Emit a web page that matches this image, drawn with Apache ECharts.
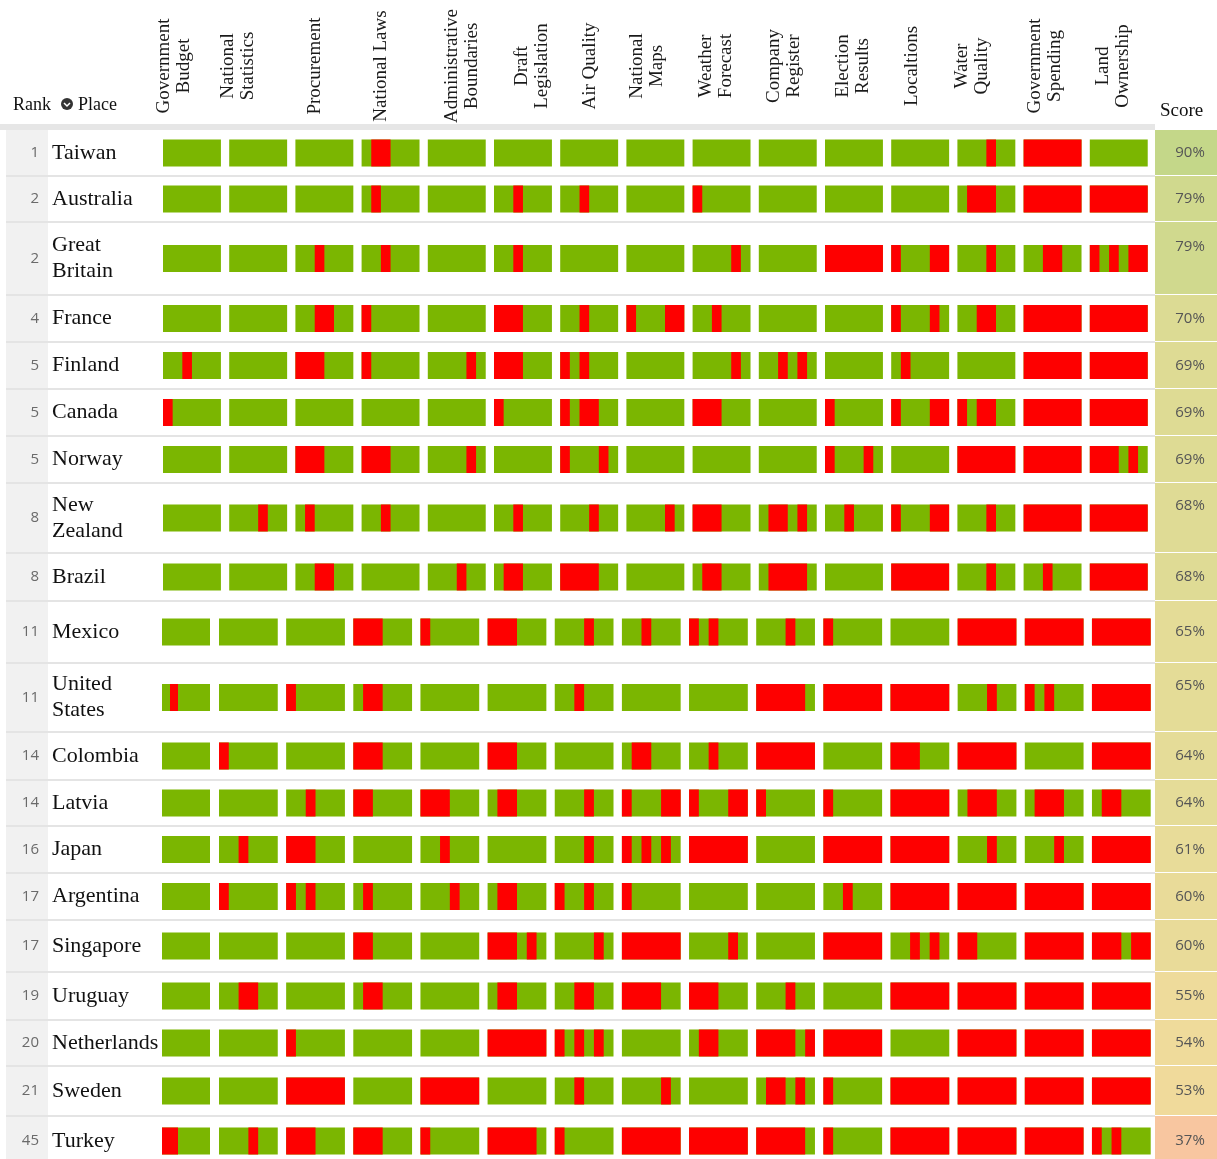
<!DOCTYPE html>
<html><head><meta charset="utf-8">
<script src="https://cdn.jsdelivr.net/npm/echarts@6/dist/echarts.min.js"></script>
<style>html,body{margin:0;padding:0;background:#fff}#c{width:1217px;height:1159px}</style>
</head><body><div id="c"></div><script>
// ---------- data ----------
const datasets = ['Government\nBudget','National\nStatistics','Procurement','National Laws','Administrative\nBoundaries','Draft\nLegislation','Air Quality','National\nMaps','Weather\nForecast','Company\nRegister','Election\nResults','Localtions','Water\nQuality','Government\nSpending','Land\nOwnership'];
const places = ['Taiwan','Australia','Great\nBritain','France','Finland','Canada','Norway','New\nZealand','Brazil','Mexico','United\nStates','Colombia','Latvia','Japan','Argentina','Singapore','Uruguay','Netherlands','Sweden','Turkey'];
const ranks = [1,2,2,4,5,5,5,8,8,11,11,14,14,16,17,17,19,20,21,45];
const scores = [90,79,79,70,69,69,69,68,68,65,65,64,64,61,60,60,55,54,53,37];
// each cell: 6 criteria, G = met (green), R = not met (red)
const taiwan       = 'GGGGGG GGGGGG GGGGGG GRRGGG GGGGGG GGGGGG GGGGGG GGGGGG GGGGGG GGGGGG GGGGGG GGGGGG GGGRGG RRRRRR GGGGGG';
const australia    = 'GGGGGG GGGGGG GGGGGG GRGGGG GGGGGG GGRGGG GGRGGG GGGGGG RGGGGG GGGGGG GGGGGG GGGGGG GRRRGG RRRRRR RRRRRR';
const greatBritain = 'GGGGGG GGGGGG GGRGGG GGRGGG GGGGGG GGRGGG GGGGGG GGGGGG GGGGRG GGGGGG RRRRRR RGGGRR GGGRGG GGRRGG RGRGRR';
const france       = 'GGGGGG GGGGGG GGRRGG RGGGGG GGGGGG RRRGGG GGRGGG RGGGRR GGRGGG GGGGGG GGGGGG RGGGRG GGRRGG RRRRRR RRRRRR';
const finland      = 'GGRGGG GGGGGG RRRGGG RGGGGG GGGGRG RRRGGG RGRGGG GGGGGG GGGGRG GGRGRG GGGGGG GRGGGG GGGGGG RRRRRR RRRRRR';
const canada       = 'RGGGGG GGGGGG GGGGGG GGGGGG GGGGGG RGGGGG RGRRGG GGGGGG RRRGGG GGGGGG RGGGGG RGGGRR RGRRGG RRRRRR RRRRRR';
const norway       = 'GGGGGG GGGGGG RRRGGG RRRGGG GGGGRG GGGGGG RGGGRG GGGGGG GGGGGG GGGGGG RGGGRG GGGGGG RRRRRR RRRRRR RRRGRG';
const newZealand   = 'GGGGGG GGGRGG GRGGGG GGRGGG GGGGGG GGRGGG GGGRGG GGGGRG RRRGGG GRRGRG GGRGGG RGGGRR GGGRGG RRRRRR RRRRRR';
const brazil       = 'GGGGGG GGGGGG GGRRGG GGGGGG GGGRGG GRRGGG RRRRGG GGGGGG GRRGGG GRRRRG GGGGGG RRRRRR GGGRGG GGRGGG RRRRRR';
const mexico       = 'GGGGGG GGGGGG GGGGGG RRRGGG RGGGGG RRRGGG GGGRGG GGRGGG RGRGGG GGGRGG RGGGGG GGGGGG RRRRRR RRRRRR RRRRRR';
const unitedStates = 'GRGGGG GGGGGG RGGGGG GRRGGG GGGGGG GGGGGG GGRGGG GGGGGG GGGGGG RRRRRG RRRRRR RRRRRR GGGRGG RGRGGG RRRRRR';
const colombia     = 'GGGGGG RGGGGG GGGGGG RRRGGG GGGGGG RRRGGG GGGGGG GRRGGG GGRGGG RRRRRR GGGGGG RRRGGG RRRRRR GGGGGG RRRRRR';
const latvia       = 'GGGGGG GGGGGG GGRGGG RRGGGG RRRGGG GRRGGG GGGRGG RGGGRR RGGGRR RGGGGG RGGGGG RRRRRR GRRRGG GRRRGG GRRGGG';
const japan        = 'GGGGGG GGRGGG RRRGGG GGGGGG GGRGGG GGGGGG GGGRGG RGRGRG RRRRRR GGGGGG RRRRRR RRRRRR GGGRGG GGGRGG RRRRRR';
const argentina    = 'GGGGGG RGGGGG RGRGGG GRGGGG GGGRGG GRRGGG RGGRGG RGGGGG GGGGGG GGGGGG GGRGGG RRRRRR RRRRRR RRRRRR RRRRRR';
const singapore    = 'GGGGGG GGGGGG GGGGGG RRGGGG GGGGGG RRRGRG GGGGRG RRRRRR GGGGRG GGGGGG RRRRRR GGRGRG RRGGGG RRRRRR RRRGRR';
const uruguay      = 'GGGGGG GGRRGG GGGGGG GRRGGG GGGGGG GRRGGG GGRRGG RRRRGG RRRGGG GGGRGG GGGGGG RRRRRR RRRRRR RRRRRR RRRRRR';
const netherlands  = 'GGGGGG GGGGGG RGGGGG GGGGGG GGGGGG RRRRRR RGRGRG GGGGGG GRRGGG RRRRGR RRRRRR GGGGGG RRRRRR RRRRRR RRRRRR';
const sweden       = 'GGGGGG GGGGGG RRRRRR GGGGGG RRRRRR GGGGGG GGRGGG GGGGRG GGGGGG GRRGRG RGGGGG RRRRRR RRRRRR RRRRRR RRRRRR';
const turkey       = 'RRGGGG GGGRGG RRRGGG RRRGGG RGGGGG RRRRRG RGGGGG RRRRRR RRRRRR RRRRRG RGGGGG RRRRRR RRRRRR RRRRRR RGRGGG';
const rowsData = [taiwan,australia,greatBritain,france,finland,canada,norway,newZealand,brazil,mexico,unitedStates,colombia,latvia,japan,argentina,singapore,uruguay,netherlands,sweden,turkey];

// ---------- layout ----------
const rowHeights = [46,46,73,47,47,47,47,70,48,62,69,48,46,47,47,52,48,46,50,50];
const headerShift = [-18,-20,-9,-10,5,9,1,-8,-6,-4,-1,-8,-14,-8,-6];
const SPLIT_ROW = 9;           // rows from here on use the lower panel's column spacing
const CELL = 0.875, UNITS = 6, BAR_H = 27;
const LOWER_PITCH = 67.15;
const GREEN = '#7bb601', RED = '#fe0000';
const SERIF = '"Liberation Serif","Times New Roman",serif';
const SANS = '"Open Sans","Noto Sans",sans-serif';

const rowTops = []; let acc = 0;
rowHeights.forEach(h => { rowTops.push(acc); acc += h; });
const rowCenters = rowTops.map((t, i) => t + rowHeights[i] / 2);
const splitY = rowTops[SPLIT_ROW];

// top panel: all columns; bottom panel: first column (narrower) and the rest
const segsTop = [], segsBottomFirst = [], segsBottomRest = [];
rowsData.forEach((row, r) => {
  row.trim().split(/\s+/).forEach((cell, c) => {
    const out = r < SPLIT_ROW ? segsTop : (c === 0 ? segsBottomFirst : segsBottomRest);
    out.push([c, 0, UNITS, r, 0]);
    let s = -1;
    for (let i = 0; i <= cell.length; i++) {
      const isRed = i < cell.length && cell[i] === 'R';
      if (isRed && s < 0) s = i;
      if (!isRed && s >= 0) { out.push([c, s, i, r, 1]); s = -1; }
    }
  });
});

function cellItem(params, api) {
  const c = api.value(0), s = api.value(1), e = api.value(2), r = api.value(3), red = api.value(4);
  const yc = rowCenters[r];
  const a = api.coord([c + s / UNITS * CELL, yc]);
  const b = api.coord([c + e / UNITS * CELL, yc]);
  const h = api.size([0, BAR_H])[1];
  return {type: 'rect', shape: {x: a[0], y: a[1] - h / 2, width: b[0] - a[0], height: h},
    style: {fill: red ? RED : GREEN}};
}

const chart = echarts.init(document.getElementById('c'), null, {renderer: 'canvas'});
chart.setOption({
  backgroundColor: '#fff',
  animation: false,
  grid: [
    {left: 163, top: 130, width: 993, height: splitY},
    {left: 219, top: 130 + splitY, width: 14 * LOWER_PITCH, height: 1029 - splitY},
    {left: 162, top: 130 + splitY, width: 48, height: 1029 - splitY}
  ],
  xAxis: [
    {gridIndex: 0, type: 'value', min: 0, max: 15, show: false},
    {gridIndex: 1, type: 'value', min: 1, max: 15, show: false},
    {gridIndex: 2, type: 'value', min: 0, max: CELL, show: false}
  ],
  yAxis: [
    {gridIndex: 0, type: 'value', min: 0, max: splitY, inverse: true, show: false},
    {gridIndex: 1, type: 'value', min: splitY, max: 1029, inverse: true, show: false},
    {gridIndex: 2, type: 'value', min: splitY, max: 1029, inverse: true, show: false}
  ],
  visualMap: {type: 'continuous', show: false, min: 37, max: 90, dimension: 1, seriesIndex: 3,
    inRange: {color: ['#f8c6a0', '#f2da9c', '#e6dc98', '#d2da8f', '#c4d789']}},
  graphic: [
    {type: 'rect', shape: {x: 6, y: 130, width: 42, height: 1029}, style: {fill: '#f1f1f1'}, z: 0},
    {type: 'rect', shape: {x: 0, y: 124, width: 1155, height: 6}, style: {fill: '#e6e6e6'}, z: 0},
    {type: 'text', x: 13, y: 105, style: {text: 'Rank', font: '18px ' + SERIF, fill: '#111', verticalAlign: 'middle', textVerticalAlign: 'middle'}},
    {type: 'circle', shape: {cx: 67, cy: 104, r: 6}, style: {fill: '#333'}},
    {type: 'polyline', shape: {points: [[64, 103], [67, 106], [70, 103]]}, style: {stroke: '#fff', lineWidth: 1.5, fill: null}},
    {type: 'text', x: 78, y: 105, style: {text: 'Place', font: '18px ' + SERIF, fill: '#111', verticalAlign: 'middle', textVerticalAlign: 'middle'}},
    {type: 'text', x: 1160, y: 111, style: {text: 'Score', font: '19px ' + SERIF, fill: '#111', verticalAlign: 'middle', textVerticalAlign: 'middle'}}
  ],
  series: [
    {type: 'custom', name: 'cells-top', coordinateSystem: 'cartesian2d', xAxisIndex: 0, yAxisIndex: 0,
      clip: true, data: segsTop, z: 3, renderItem: cellItem},
    {type: 'custom', name: 'cells-bottom', coordinateSystem: 'cartesian2d', xAxisIndex: 1, yAxisIndex: 1,
      clip: true, data: segsBottomRest, z: 3, renderItem: cellItem},
    {type: 'custom', name: 'cells-bottom-first', coordinateSystem: 'cartesian2d', xAxisIndex: 2, yAxisIndex: 2,
      clip: true, data: segsBottomFirst, z: 3, renderItem: cellItem},
    {
      type: 'custom', name: 'rows', coordinateSystem: 'cartesian2d', xAxisIndex: 0, yAxisIndex: 0, clip: false, z: 2,
      data: places.map((p, r) => [r, scores[r]]),
      renderItem(params, api) {
        const r = api.value(0);
        const yc = api.coord([0, rowCenters[r]])[1];
        const yT = api.coord([0, rowTops[r]])[1];
        const yB = api.coord([0, rowTops[r] + rowHeights[r]])[1];
        const two = places[r].indexOf('\n') >= 0;
        return {type: 'group', children: [
          {type: 'rect', shape: {x: 1155, y: yT, width: 62, height: yB - yT - 1}, style: {fill: api.visual('color')}},
          {type: 'line', shape: {x1: 6, y1: yB, x2: 1155, y2: yB}, style: {stroke: '#e4e4e4', lineWidth: 2}},
          {type: 'text', x: 39, y: yc, style: {text: String(ranks[r]), font: '15px ' + SANS, fill: '#6a6a6a',
            align: 'right', textAlign: 'right', verticalAlign: 'middle', textVerticalAlign: 'middle'}},
          {type: 'text', x: 52, y: yc, style: {text: places[r], font: '22px ' + SERIF, lineHeight: 26, fill: '#111',
            align: 'left', textAlign: 'left', verticalAlign: 'middle', textVerticalAlign: 'middle'}},
          {type: 'text', x: 1190, y: two ? yc - 12 : yc, style: {text: scores[r] + '%', font: '15px ' + SANS, fill: '#555',
            align: 'center', textAlign: 'center', verticalAlign: 'middle', textVerticalAlign: 'middle'}}
        ]};
      }
    },
    {
      type: 'custom', name: 'headers', coordinateSystem: 'cartesian2d', xAxisIndex: 0, yAxisIndex: 0, clip: false, z: 2,
      data: datasets.map((d, c) => [c]),
      renderItem(params, api) {
        const c = api.value(0);
        const x = api.coord([c + CELL / 2, 0])[0] + headerShift[c];
        return {type: 'text', x: x, y: 66, rotation: Math.PI / 2,
          style: {text: datasets[c], font: '19px ' + SERIF, lineHeight: 20, fill: '#1a1a1a',
            align: 'center', textAlign: 'center', verticalAlign: 'middle', textVerticalAlign: 'middle'}};
      }
    }
  ]
});
</script></body></html>
